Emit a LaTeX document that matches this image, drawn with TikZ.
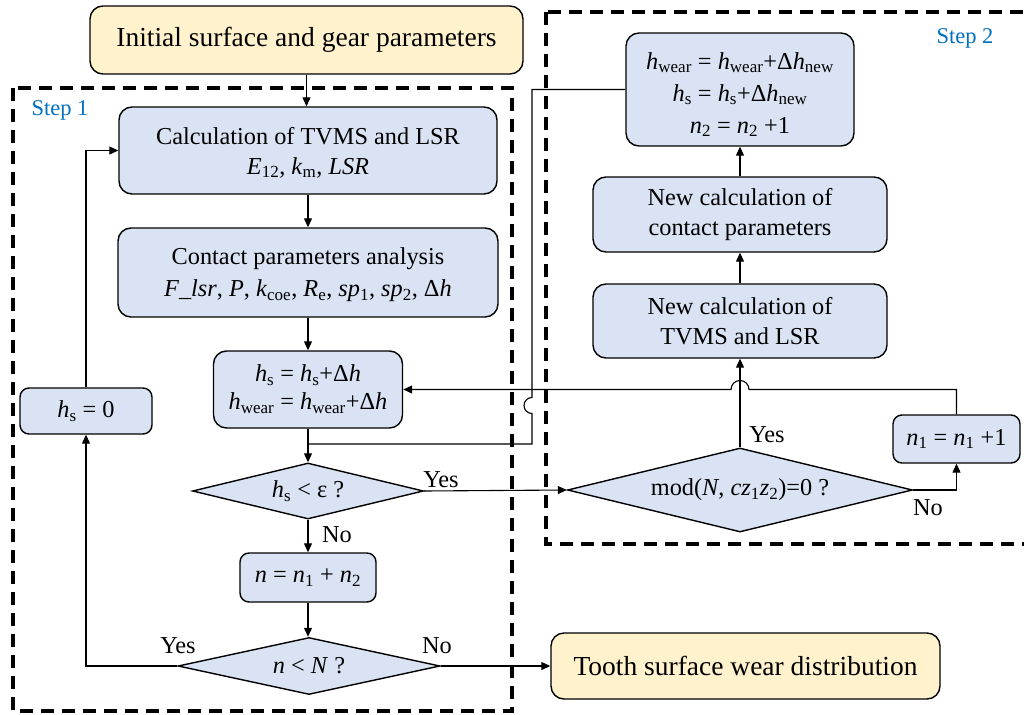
\documentclass[tikz,border=0pt]{standalone}
\usepackage{fontspec}
\setmainfont{Liberation Serif}
\usetikzlibrary{arrows.meta,shapes.geometric}
\definecolor{boxblue}{HTML}{DAE3F3}
\definecolor{boxyellow}{HTML}{FFF2CC}
\definecolor{steptext}{HTML}{0070C0}
\newcommand{\myit}[1]{\textit{#1}}
\newcommand{\mysub}[1]{\textsubscript{#1}}
\begin{document}
\begin{tikzpicture}[x=1pt,y=-1pt,
  every node/.style={font=\fontsize{24.3}{30}\selectfont},
  bluebox/.style={draw=black, line width=1.4pt, fill=boxblue, rounded corners=13pt, align=center, inner sep=0pt},
  yellowbox/.style={draw=black, line width=1.4pt, fill=boxyellow, rounded corners=13pt, align=center, inner sep=0pt, font=\fontsize{27.5}{32}\selectfont},
  decision/.style={draw=black, line width=1.4pt, fill=boxblue, diamond, inner sep=0pt},
  conn/.style={line width=1.1pt, draw=black},
  arr/.style={conn, -{Triangle[length=9pt,width=8pt]}},
  stepframe/.style={draw=black, line width=3.6pt, dash pattern=on 13pt off 8pt},
  steplabel/.style={text=steptext, font=\fontsize{22.5}{26}\selectfont},
  lbl/.style={inner sep=0pt}
]
\useasboundingbox (0,0) rectangle (1024,714);
\fill[white] (0,0) rectangle (1024,714);

% frames
\draw[stepframe] (13,88) rectangle (512,711);
\draw[stepframe] (546,12) rectangle (1040,544);
\node[steplabel] (s1) at (60,110) {Step 1};
\node[steplabel] (s2) at (965,38) {Step 2};

% left column
\node[yellowbox, minimum width=433pt, minimum height=68pt] (init) at (306.5,40) {Initial surface and gear parameters};
\node[bluebox, minimum width=378pt, minimum height=87pt] (tvms) at (308,150.5) {};
\node[align=center] (tvmst) at ([yshift=-2pt]tvms.center) {Calculation of TVMS and LSR\\\myit{E}\mysub{12}, \myit{k}\mysub{m}, \myit{LSR}};
\node[bluebox, minimum width=380pt, minimum height=89pt] (contact) at (308,272.5) {};
\node[align=center, font=\fontsize{24.3}{32}\selectfont] (contactt) at ([yshift=-2pt]contact.center) {Contact parameters analysis\\\myit{F\_lsr}, \myit{P}, \myit{k}\mysub{coe}, \myit{R}\mysub{e}, \myit{sp}\mysub{1}, \myit{sp}\mysub{2}, Δ\myit{h}};
\node[bluebox, minimum width=189pt, minimum height=77pt, font=\fontsize{24.3}{28}\selectfont] (hsbox) at (308,389.5) {\myit{h}\mysub{s} = \myit{h}\mysub{s}+Δ\myit{h}\\\myit{h}\mysub{wear} = \myit{h}\mysub{wear}+Δ\myit{h}};
\node[decision, minimum width=231pt, minimum height=56pt] (dia1) at (308,491) {};
\node (dia1t) at (dia1.center) {\myit{h}\mysub{s} < ε ?};
\node[bluebox, minimum width=136pt, minimum height=49pt, rounded corners=9pt] (nbox) at (308,577.5) {\myit{n} = \myit{n}\mysub{1} + \myit{n}\mysub{2}};
\node[decision, minimum width=262pt, minimum height=57pt] (dia2) at (309,666) {};
\node (dia2t) at (dia2.center) {\myit{n} < \myit{N} ?};
\node[bluebox, minimum width=132pt, minimum height=46pt, rounded corners=9pt] (hs0) at (86,411) {\myit{h}\mysub{s} = 0};
\node[yellowbox, minimum width=389pt, minimum height=66pt] (tooth) at (745.5,666) {Tooth surface wear distribution};

% right column
\node[bluebox, minimum width=228pt, minimum height=113pt] (hwear) at (740,89.5) {};
\node[align=center, font=\fontsize{24.3}{32}\selectfont] (hweart) at ([yshift=-5pt]hwear.center) {\myit{h}\mysub{wear} = \myit{h}\mysub{wear}+Δ\myit{h}\mysub{new}\\\myit{h}\mysub{s} = \myit{h}\mysub{s}+Δ\myit{h}\mysub{new}\\\myit{n}\mysub{2} = \myit{n}\mysub{2} +1};
\node[bluebox, minimum width=294pt, minimum height=75pt] (ncontact) at (740,214.5) {New calculation of\\contact parameters};
\node[bluebox, minimum width=294pt, minimum height=74pt] (ntvms) at (740,321) {New calculation of\\TVMS and LSR};
\node[decision, minimum width=345pt, minimum height=84pt] (mod) at (740,490) {};
\node (modt) at (mod.center) {mod(\myit{N}, \myit{cz}\mysub{1}\myit{z}\mysub{2})=0 ?};
\node[bluebox, minimum width=127pt, minimum height=48pt, rounded corners=9pt] (n1) at (956.5,439) {\myit{n}\mysub{1} = \myit{n}\mysub{1} +1};

% connectors left
\draw[arr] (init.south) -- (init.south |- tvms.north);
\draw[arr] (tvms.south) -- (contact.north);
\draw[arr] (contact.south) -- (hsbox.north);
\draw[arr] (hsbox.south) -- (dia1.north);
\draw[arr] (dia1.south) -- (nbox.north);
\draw[arr] (nbox.south) -- (nbox.south |- dia2.north);
\draw[arr] (dia2.west) -| (hs0.south);
\draw[arr] (hs0.north) |- (tvms.west);
\draw[arr] (dia2.east) -- (tooth.west);
\draw[arr] (dia1.east) -- (mod.west);

% connectors right
\draw[arr] (mod.north) -- (ntvms.south);
\draw[arr] (ntvms.north) -- (ncontact.south);
\draw[arr] (ncontact.north) -- (hwear.south);
\draw[arr] (mod.east) -| (n1.south);

% loop from hwear back to hs line (with hop)
\coordinate (hopA) at (532,389.5);
\coordinate (joinA) at (308,444);
\draw[conn] (hwear.west) -- (532,89.5) -- ([yshift=-8pt]hopA) arc (270:90:8) -- (532,444) -- (joinA);

% loop from n1 back to hsbox (with hop)
\coordinate (hopB) at (740,389.5);
\draw[arr] (n1.north) |- ([xshift=9pt]hopB) arc (0:-180:9) -- (hsbox.east);

% labels
\node[lbl] (y1) at (441,480) {Yes};
\node[lbl] (no1) at (337,535) {No};
\node[lbl] (y2) at (767,435) {Yes};
\node[lbl] (no2) at (928,508) {No};
\node[lbl] (y3) at (178,646) {Yes};
\node[lbl] (no3) at (437,646) {No};
\end{tikzpicture}
\end{document}
